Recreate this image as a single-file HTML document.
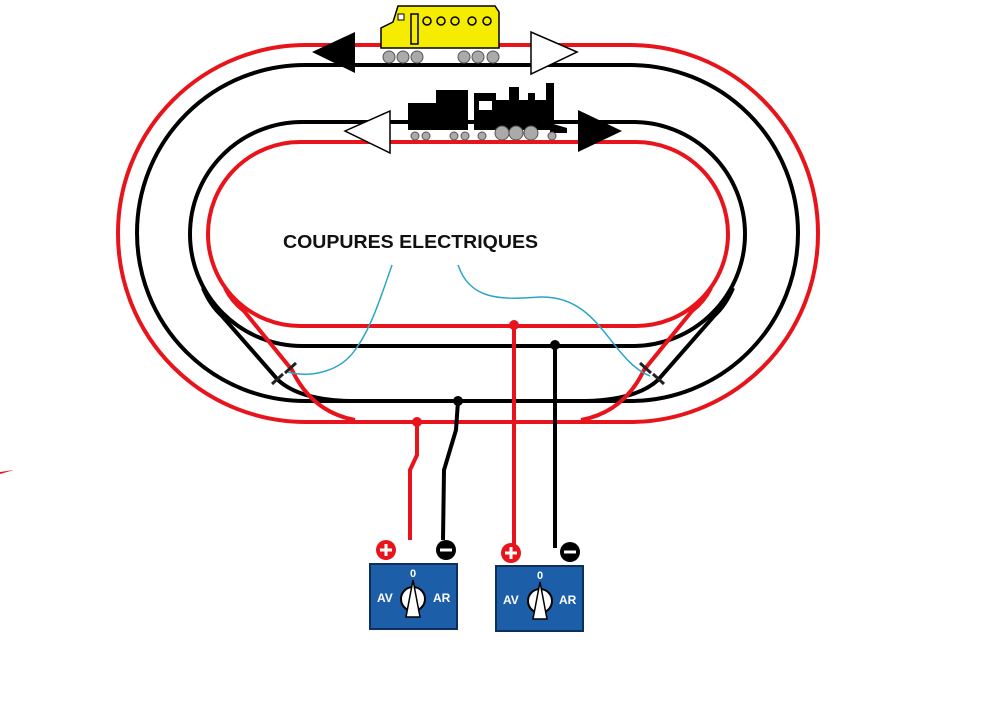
<!DOCTYPE html>
<html><head><meta charset="utf-8"><style>
html,body{margin:0;padding:0;background:#fff;}
svg{display:block;}
</style></head><body>
<svg width="988" height="713" viewBox="0 0 988 713" xmlns="http://www.w3.org/2000/svg">
<rect width="988" height="713" fill="#fff"/>
<g fill="none" stroke-width="4">
<rect x="118" y="45" width="700" height="377" rx="188" ry="188" stroke="#e8141b"/>
<rect x="137" y="65" width="661" height="336" rx="168" ry="168" stroke="#000"/>
<rect x="190" y="122" width="555" height="224" rx="112" ry="112" stroke="#000"/>
<rect x="208" y="142" width="520" height="184" rx="92" ry="92" stroke="#e8141b"/>
<path d="M203 288 Q210 305 222 316 L278 380 Q300 400 350 401" stroke="#000"/>
<path d="M225 288 Q232 302 244 311 L292 370 Q312 412 355 420" stroke="#e8141b"/>
<path d="M733 288 Q726 305 714 316 L658 380 Q636 400 586 401" stroke="#000"/>
<path d="M711 288 Q704 302 692 311 L644 370 Q624 412 581 420" stroke="#e8141b"/>
</g>
<g stroke="#222" stroke-width="3">
<line x1="285" y1="373" x2="296" y2="363"/><line x1="272" y1="384" x2="283" y2="374"/>
<line x1="640" y1="363" x2="651" y2="373"/><line x1="653" y1="374" x2="664" y2="384"/>
</g>
<g fill="none" stroke="#2aa5c8" stroke-width="1.5">
<path d="M392 265 C380 300 370 330 355 350 C340 372 310 378 288 372"/>
<path d="M458 265 C470 300 500 300 540 297 C600 295 610 360 650 376"/>
</g>
<text x="283" y="248" font-family="Liberation Sans, sans-serif" font-weight="bold" font-size="18" textLength="255" lengthAdjust="spacingAndGlyphs" fill="#111">COUPURES ELECTRIQUES</text>
<g fill="none" stroke-width="4">
<path d="M417 422 L417 455 L410 470 L410 540" stroke="#e8141b"/>
<path d="M458 401 L456 430 L444 470 L443 540" stroke="#000"/>
<path d="M514 325 L514 548" stroke="#e8141b"/>
<path d="M555 345 L555 548" stroke="#000"/>
</g>
<circle cx="417" cy="422" r="5" fill="#e8141b"/>
<circle cx="458" cy="401" r="5" fill="#000"/>
<circle cx="514" cy="325" r="5" fill="#e8141b"/>
<circle cx="555" cy="345" r="5" fill="#000"/>
<path d="M0 472 L14 470 L0 474Z" fill="#e8141b"/>
<g font-family="Liberation Sans, sans-serif" font-weight="bold" fill="#fff">
<rect x="370" y="564" width="87" height="65" fill="#1d5ea9" stroke="#0d2f5c" stroke-width="2"/>
<text x="413" y="577" font-size="11" text-anchor="middle">0</text>
<text x="377" y="602" font-size="12">AV</text>
<text x="433" y="602" font-size="12">AR</text>
<circle cx="413" cy="599" r="12" fill="#fff" stroke="#000" stroke-width="2"/>
<path d="M413 580 L406 617 L420 617Z" fill="#fff" stroke="#000" stroke-width="1.5"/>
<rect x="496" y="566" width="87" height="65" fill="#1d5ea9" stroke="#0d2f5c" stroke-width="2"/>
<text x="540" y="579" font-size="11" text-anchor="middle">0</text>
<text x="503" y="604" font-size="12">AV</text>
<text x="559" y="604" font-size="12">AR</text>
<circle cx="540" cy="601" r="12" fill="#fff" stroke="#000" stroke-width="2"/>
<path d="M540 582 L533 619 L547 619Z" fill="#fff" stroke="#000" stroke-width="1.5"/>
</g>
<g>
<circle cx="386" cy="550" r="10" fill="#e8141b"/><path d="M380 550h12M386 544v12" stroke="#fff" stroke-width="3"/>
<circle cx="446" cy="550" r="10" fill="#000"/><path d="M440 550h12" stroke="#fff" stroke-width="3"/>
<circle cx="511" cy="553" r="10" fill="#e8141b"/><path d="M505 553h12M511 547v12" stroke="#fff" stroke-width="3"/>
<circle cx="570" cy="552" r="10" fill="#000"/><path d="M564 552h12" stroke="#fff" stroke-width="3"/>
</g>
<path d="M312 52 L355 32 L355 73Z" fill="#000"/>
<path d="M577 52 L531 32 L531 74Z" fill="#fff" stroke="#000" stroke-width="1.5"/>
<path d="M345 131 L390 111 L390 153Z" fill="#fff" stroke="#000" stroke-width="1.5"/>
<path d="M622 131 L578 110 L578 152Z" fill="#000"/>
<path d="M381 28 L393 22 L398 6 L495 6 L499 12 L499 48 L381 48Z" fill="#f5ec00" stroke="#000" stroke-width="1.5"/>
<rect x="398" y="14" width="6" height="6" fill="#fff" stroke="#000"/>
<rect x="411" y="14" width="7" height="30" fill="none" stroke="#000" stroke-width="1.5"/>
<g fill="none" stroke="#000" stroke-width="1.5">
<circle cx="427" cy="21" r="4"/><circle cx="441" cy="21" r="4"/><circle cx="455" cy="21" r="4"/><circle cx="472" cy="21" r="4"/><circle cx="487" cy="21" r="4"/>
</g>
<g fill="#aaa" stroke="#555">
<circle cx="389" cy="57" r="6"/><circle cx="403" cy="57" r="6"/><circle cx="417" cy="57" r="6"/>
<circle cx="464" cy="57" r="6"/><circle cx="478" cy="57" r="6"/><circle cx="493" cy="57" r="6"/>
</g>
<g fill="#000">
<rect x="408" y="103" width="60" height="27"/>
<rect x="436" y="90" width="32" height="15"/>
<rect x="474" y="93" width="22" height="37"/>
<rect x="496" y="100" width="58" height="30"/>
<rect x="509" y="87" width="10" height="15"/>
<rect x="528" y="93" width="7" height="10"/>
<rect x="546" y="83" width="8" height="20"/>
<path d="M550 123 L567 128 L567 133 L550 133Z"/>
</g>
<rect x="479" y="101" width="13" height="9" fill="#fff"/>
<g fill="#aaa" stroke="#555">
<circle cx="415" cy="136" r="4"/><circle cx="426" cy="136" r="4"/>
<circle cx="454" cy="136" r="4"/><circle cx="465" cy="136" r="4"/><circle cx="482" cy="136" r="4"/>
<circle cx="502" cy="133" r="7"/><circle cx="516" cy="133" r="7"/><circle cx="531" cy="133" r="7"/>
<circle cx="552" cy="136" r="4"/>
</g>
</svg>
</body></html>
